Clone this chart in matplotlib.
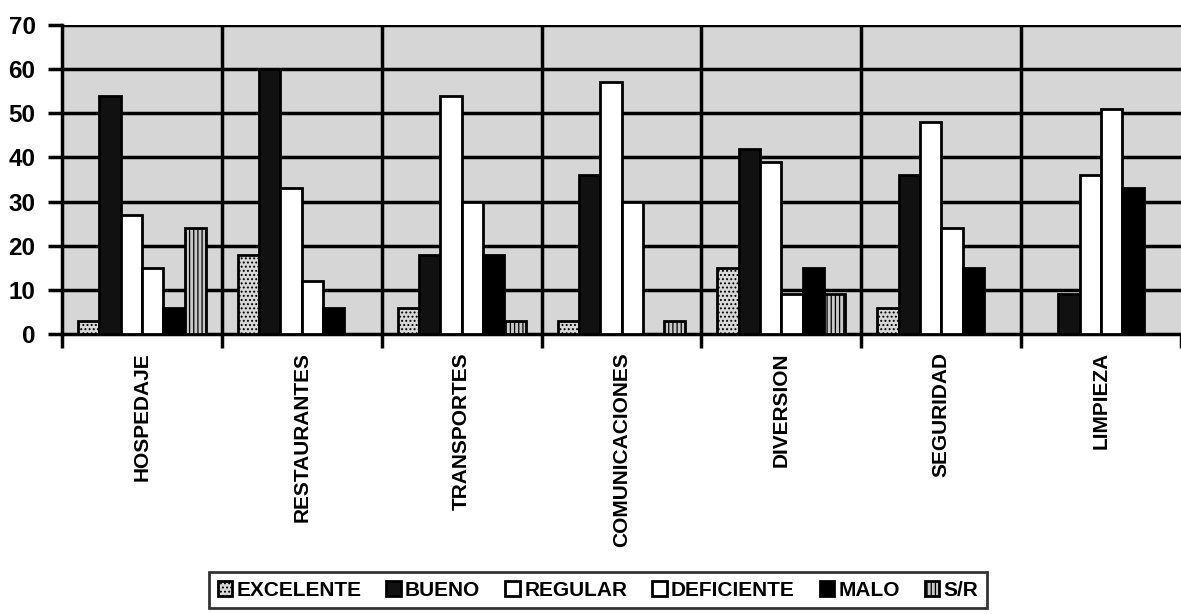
import numpy as np
import matplotlib
matplotlib.use("Agg")
import matplotlib.pyplot as plt
from matplotlib.patches import Rectangle

plt.rcParams['font.family'] = ['Liberation Sans', 'DejaVu Sans']
plt.rcParams['font.weight'] = 'bold'
plt.rcParams['hatch.color'] = '#5a5a5a'
plt.rcParams['hatch.linewidth'] = 0.9

categorias = ['HOSPEDAJE', 'RESTAURANTES', 'TRANSPORTES', 'COMUNICACIONES',
              'DIVERSION', 'SEGURIDAD', 'LIMPIEZA']
series = ['EXCELENTE', 'BUENO', 'REGULAR', 'DEFICIENTE', 'MALO', 'S/R']

excelente = [3, 18, 6, 3, 15, 6, 0]
bueno = [54, 60, 18, 36, 42, 36, 9]
regular = [27, 33, 54, 57, 39, 48, 36]
deficiente = [15, 12, 30, 30, 9, 24, 51]
malo = [6, 6, 18, 0, 15, 15, 33]
sin_resp = [24, 0, 3, 3, 9, 0, 0]

valores = [excelente, bueno, regular, deficiente, malo, sin_resp]
estilos = [
    dict(facecolor='#d8d8d8', hatch='....'),
    dict(facecolor='#111111', hatch=None),
    dict(facecolor='white', hatch=None),
    dict(facecolor='white', hatch=None),
    dict(facecolor='black', hatch=None),
    dict(facecolor='#c8c8c8', hatch='||||'),
]

fig = plt.figure(figsize=(11.81, 6.14), dpi=100)
ax = fig.add_axes([62 / 1181, (614 - 334) / 614, 1119 / 1181, 309 / 614])

n = len(categorias)
ax.set_xlim(0, n * 1119 / 1122)
ax.set_ylim(0, 70)

# fondo punteado
ax.add_patch(Rectangle((0, 0), n, 70, facecolor='#d6d6d6', hatch='....',
                       edgecolor='none', linewidth=0, zorder=0))

ancho = 0.1333
x = np.arange(n) + 0.5
for j, (nombre, vals, st) in enumerate(zip(series, valores, estilos)):
    ax.bar(x + (j - 2.5) * ancho, vals, width=ancho, label=nombre,
           facecolor=st['facecolor'], hatch=st['hatch'],
           edgecolor='black', linewidth=2, zorder=3)

# rejilla
for y in range(10, 71, 10):
    ax.axhline(y, color='black', linewidth=2.5, zorder=1)
for b in range(1, n):
    ax.axvline(b, color='black', linewidth=2.5, zorder=1)

ax.set_yticks(range(0, 71, 10))
ax.tick_params(axis='y', length=10, width=2.5, labelsize=17.5, pad=9)
ax.set_xticks(x)
ax.set_xticklabels(categorias, rotation=90, fontsize=15, fontweight='bold', va='top')
ax.tick_params(axis='x', length=0, pad=13)
ax.set_xticks(np.arange(0, n + 1), minor=True)
ax.tick_params(axis='x', which='minor', length=10, width=2.5)
for lbl in ax.get_yticklabels():
    lbl.set_fontweight('bold')

for s in ['left', 'bottom']:
    ax.spines[s].set_linewidth(2.5)
ax.spines['top'].set_visible(False)
ax.spines['right'].set_visible(False)

leg = fig.legend(loc='center', bbox_to_anchor=(598 / 1181, (614 - 590) / 614),
                 ncol=6, frameon=True, fancybox=False, edgecolor='black',
                 prop={'size': 15, 'weight': 'bold'}, handlelength=0.7,
                 handleheight=0.7, handletextpad=0.2, columnspacing=1.2,
                 borderpad=0.4, borderaxespad=0)
leg.get_frame().set_linewidth(2)

fig.savefig('out.png', dpi=100)
